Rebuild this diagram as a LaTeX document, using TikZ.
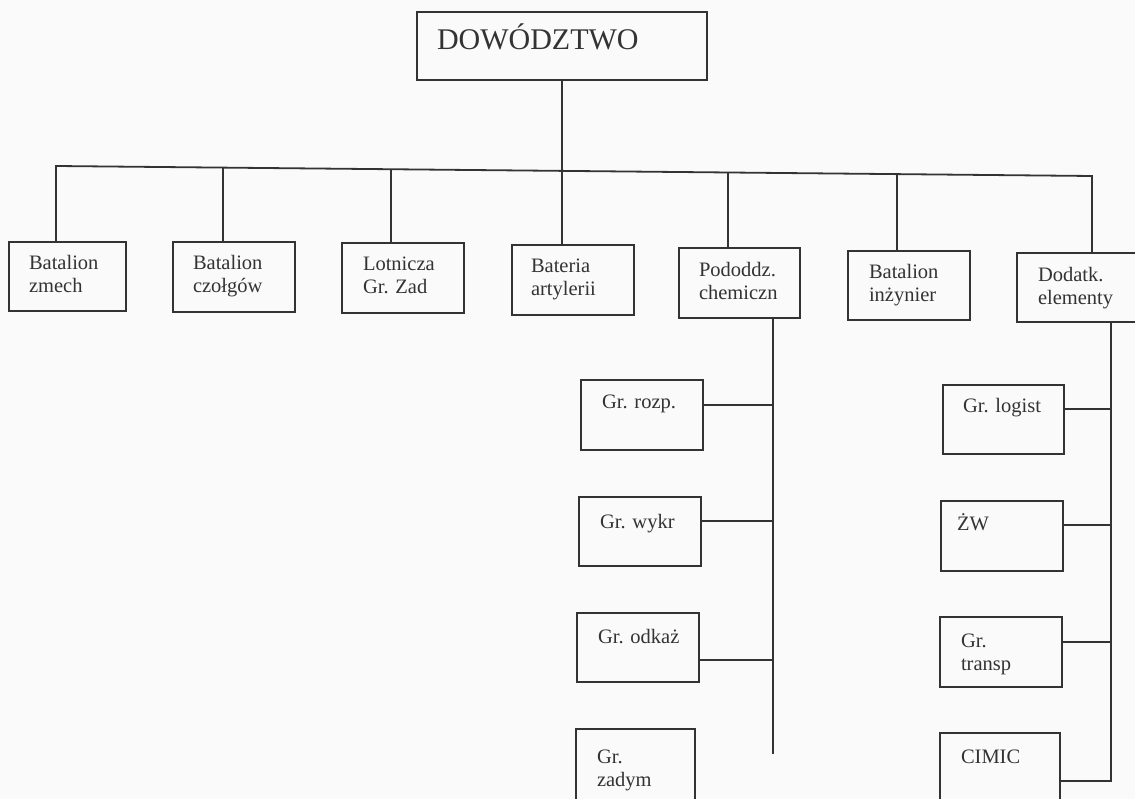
\documentclass[tikz,border=0pt]{standalone}
\usepackage{fontspec}
\setmainfont{Liberation Serif}
\definecolor{linec}{HTML}{333333}
\definecolor{textc}{HTML}{333333}
\definecolor{bgc}{HTML}{FAFAFA}
\newcommand\tl[1]{\begin{tabular}[t]{@{}l@{}}#1\end{tabular}}
\tikzset{
  orgbox/.style={draw=linec, line width=1.8pt, rectangle, inner sep=0pt, outer sep=0pt, anchor=north west},
  lbl/.style={anchor=base west, inner sep=0pt, outer sep=0pt, text=textc, font=\fontsize{20.5}{23}\selectfont},
  biglbl/.style={anchor=base west, inner sep=0pt, outer sep=0pt, text=textc, font=\fontsize{30}{34}\selectfont},
  conn/.style={draw=linec, line width=1.8pt},
}
\begin{document}
\begin{tikzpicture}[x=1pt, y=-1pt]
\useasboundingbox (0,0) rectangle (1135,799);
\fill[bgc] (0,0) rectangle (1135,799);

% command
\node[orgbox, minimum width=290pt, minimum height=68pt] (dow) at (417,12) {};
\node[biglbl] (dow-t) at (437,50) {DOWÓDZTWO};

% first level
\node[orgbox, minimum width=117pt, minimum height=69pt] (zmech) at (9,242) {};
\node[lbl] (zmech-t) at (29,270) {\tl{Batalion\\zmech}};
\node[orgbox, minimum width=122pt, minimum height=70pt] (czolg) at (173,242) {};
\node[lbl] (czolg-t) at (193,270) {\tl{Batalion\\czołgów}};
\node[orgbox, minimum width=122pt, minimum height=70pt] (lotn) at (342,243) {};
\node[lbl] (lotn-t) at (363,271) {\tl{Lotnicza\\Gr. Zad}};
\node[orgbox, minimum width=122pt, minimum height=70pt] (bat) at (512,245) {};
\node[lbl] (bat-t) at (531,273) {\tl{Bateria\\artylerii}};
\node[orgbox, minimum width=121pt, minimum height=70pt] (chem) at (679,248) {};
\node[lbl] (chem-t) at (699,277) {\tl{Pododdz.\\chemiczn}};
\node[orgbox, minimum width=122pt, minimum height=69pt] (inz) at (848,251) {};
\node[lbl] (inz-t) at (869,279) {\tl{Batalion\\inżynier}};
\node[orgbox, minimum width=125pt, minimum height=69pt] (dod) at (1017,253) {};
\node[lbl] (dod-t) at (1038,282) {\tl{Dodatk.\\elementy}};

% chemical sub-units
\node[orgbox, minimum width=122pt, minimum height=70pt] (rozp) at (581,380) {};
\node[lbl] (rozp-t) at (602,409) {Gr. rozp.};
\node[orgbox, minimum width=122pt, minimum height=69pt] (wykr) at (579,497) {};
\node[lbl] (wykr-t) at (600,528) {Gr. wykr};
\node[orgbox, minimum width=122pt, minimum height=69pt] (odkaz) at (577,613) {};
\node[lbl] (odkaz-t) at (598,643) {Gr. odkaż};
\node[orgbox, minimum width=119pt, minimum height=80pt] (zadym) at (576,729) {};
\node[lbl] (zadym-t) at (597,763) {\tl{Gr.\\zadym}};

% additional elements
\node[orgbox, minimum width=121pt, minimum height=69pt] (logist) at (943,385) {};
\node[lbl] (logist-t) at (963,413) {Gr. logist};
\node[orgbox, minimum width=122pt, minimum height=70pt] (zw) at (941,501) {};
\node[lbl] (zw-t) at (957,530) {ŻW};
\node[orgbox, minimum width=122pt, minimum height=70pt] (transp) at (940,617) {};
\node[lbl] (transp-t) at (961,647) {\tl{Gr.\\transp}};
\node[orgbox, minimum width=120pt, minimum height=80pt] (cimic) at (940,733) {};
\node[lbl] (cimic-t) at (961,763) {CIMIC};

% bus
\coordinate (j1) at (56,166);
\coordinate (j2) at (223,168);
\coordinate (j3) at (391,169);
\coordinate (j4) at (562,171);
\coordinate (j5) at (728,172);
\coordinate (j6) at (897,174);
\coordinate (j7) at (1092,176);

\draw[conn] (dow.south -| j4) -- (j4);
\draw[conn] (zmech.north -| j1) -- (j1) -- (j7) -- (j7 |- dod.north);
\draw[conn] (j2) -- (j2 |- czolg.north);
\draw[conn] (j3) -- (j3 |- lotn.north);
\draw[conn] (j4) -- (j4 |- bat.north);
\draw[conn] (j5) -- (j5 |- chem.north);
\draw[conn] (j6) -- (j6 |- inz.north);

% chemical column
\coordinate (cv) at (773,0);
\coordinate (cend) at (773,754);
\draw[conn] (chem.south -| cv) -- (cend);
\draw[conn] ([yshift=-25pt]rozp.north east) -- ([yshift=-25pt]rozp.north east -| cv);
\draw[conn] ([yshift=-24pt]wykr.north east) -- ([yshift=-24pt]wykr.north east -| cv);
\draw[conn] ([yshift=-47pt]odkaz.north east) -- ([yshift=-47pt]odkaz.north east -| cv);

% additional column
\coordinate (dv) at (1111,0);
\draw[conn] (dod.south -| dv) -- ([yshift=-48pt]cimic.north east -| dv) -- ([yshift=-48pt]cimic.north east);
\draw[conn] ([yshift=-24pt]logist.north east) -- ([yshift=-24pt]logist.north east -| dv);
\draw[conn] ([yshift=-24pt]zw.north east) -- ([yshift=-24pt]zw.north east -| dv);
\draw[conn] ([yshift=-25pt]transp.north east) -- ([yshift=-25pt]transp.north east -| dv);
\end{tikzpicture}
\end{document}
